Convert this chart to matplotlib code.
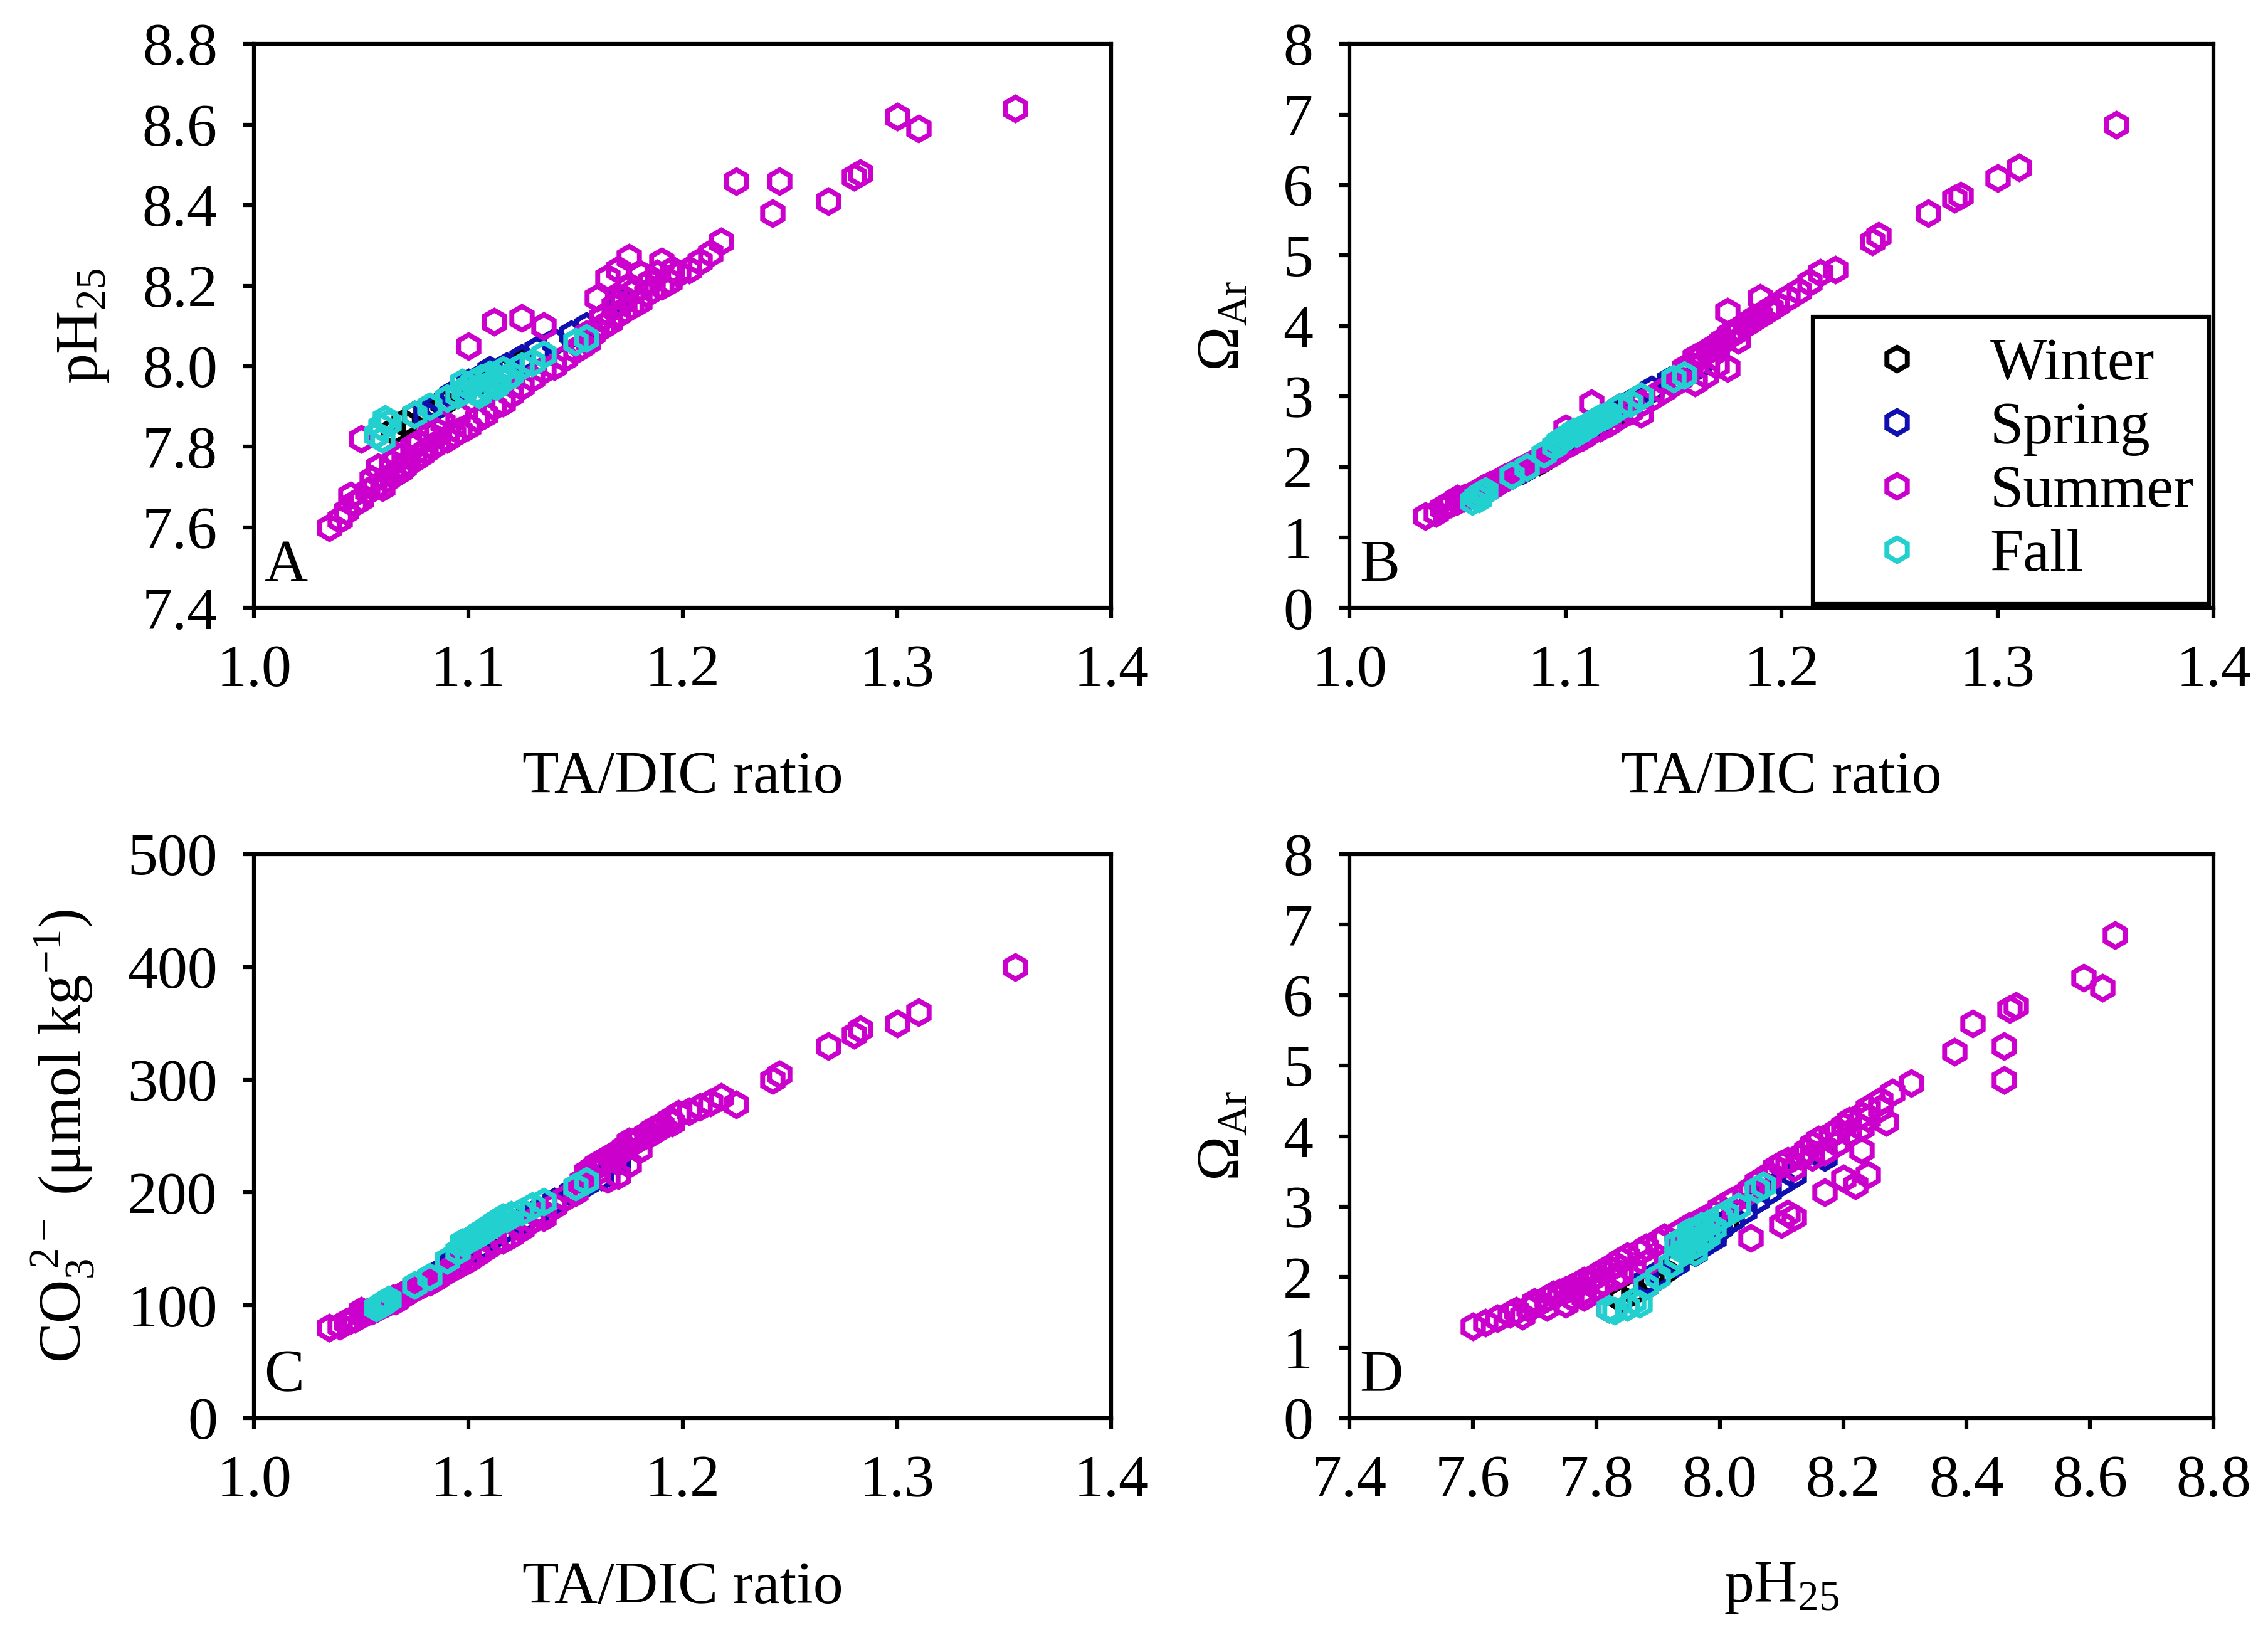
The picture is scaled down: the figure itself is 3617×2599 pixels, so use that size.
import matplotlib
matplotlib.use("Agg")
import matplotlib.pyplot as plt
from matplotlib.ticker import FormatStrFormatter, MultipleLocator

plt.rcParams['font.family'] = ['Liberation Serif', 'DejaVu Serif']
plt.rcParams['mathtext.fontset'] = 'custom'
plt.rcParams['mathtext.rm'] = 'Liberation Serif'
plt.rcParams['mathtext.it'] = 'Liberation Serif:italic'
plt.rcParams['mathtext.bf'] = 'Liberation Serif:bold'

# ---- data: TA/DIC ratio, pH25, Omega_Ar, CO3 (umol/kg) ----
winter_ratio = [1.065, 1.070, 1.075, 1.080, 1.088, 1.095, 1.105, 1.115, 1.125]
winter_ph    = [7.84, 7.86, 7.88, 7.89, 7.91, 7.93, 7.96, 7.99, 8.01]
winter_omega = [1.70, 1.80, 1.88, 1.95, 2.08, 2.22, 2.40, 2.60, 2.78]
winter_co3   = [105, 110, 115, 120, 128, 136, 150, 165, 175]

spring_ratio = [1.080, 1.085, 1.092, 1.100, 1.105, 1.110, 1.118, 1.125, 1.132, 1.140,
                1.148, 1.155, 1.162, 1.170]
spring_ph    = [7.88, 7.90, 7.93, 7.96, 7.97, 7.99, 8.00, 8.02, 8.04, 8.06,
                8.08, 8.10, 8.12, 8.17]
spring_omega = [1.95, 2.05, 2.20, 2.35, 2.45, 2.55, 2.70, 2.82, 2.95, 3.10,
                3.22, 3.35, 3.45, 3.70]
spring_co3   = [122, 128, 138, 147, 152, 160, 168, 175, 183, 192,
                200, 208, 214, 228]

summer_ratio = [1.035, 1.040, 1.043, 1.047, 1.050, 1.053, 1.056, 1.060, 1.062, 1.065,
                1.068, 1.070, 1.072, 1.075, 1.078, 1.080, 1.083, 1.086, 1.090, 1.093,
                1.096, 1.100, 1.104, 1.108, 1.112, 1.116, 1.120, 1.125, 1.130, 1.135,
                1.140, 1.145, 1.150, 1.153, 1.156, 1.158, 1.160, 1.163, 1.166, 1.170,
                1.173, 1.176, 1.180, 1.183, 1.186, 1.190, 1.194, 1.198, 1.203, 1.208,
                1.213, 1.218,
                1.225, 1.242, 1.245, 1.268, 1.280, 1.283, 1.300, 1.310, 1.355,
                1.050, 1.100, 1.112, 1.125, 1.135, 1.170, 1.175, 1.165, 1.180, 1.190,
                1.160, 1.175,
                1.058, 1.066, 1.074, 1.082, 1.088, 1.095,
                1.155, 1.162, 1.168, 1.172, 1.178, 1.185, 1.188, 1.195,
                1.064, 1.070, 1.077, 1.085, 1.045, 1.055]
summer_ph    = [7.60, 7.62, 7.64, 7.66, 7.67, 7.69, 7.70, 7.70, 7.72, 7.73,
                7.74, 7.75, 7.76, 7.77, 7.78, 7.79, 7.80, 7.81, 7.82, 7.83,
                7.84, 7.85, 7.87, 7.88, 7.90, 7.91, 7.93, 7.95, 7.97, 7.99,
                8.00, 8.02, 8.04, 8.05, 8.06, 8.08, 8.09, 8.10, 8.11, 8.13,
                8.14, 8.15, 8.16, 8.18, 8.19, 8.20, 8.21, 8.23, 8.24, 8.26,
                8.28, 8.31,
                8.46, 8.38, 8.46, 8.41, 8.47, 8.48, 8.62, 8.59, 8.64,
                7.82, 8.05, 8.11, 8.12, 8.10, 8.24, 8.27, 8.22, 8.23, 8.26,
                8.17, 8.20,
                7.75, 7.78, 7.80, 7.83, 7.86, 7.88,
                8.08, 8.12, 8.15, 8.17, 8.19, 8.21, 8.23, 8.24,
                7.76, 7.78, 7.81, 7.84, 7.68, 7.72]
summer_omega = [1.30, 1.35, 1.42, 1.48, 1.52, 1.56, 1.60, 1.65, 1.70, 1.75,
                1.78, 1.82, 1.85, 1.90, 1.95, 1.98, 2.02, 2.08, 2.12, 2.18,
                2.24, 2.30, 2.36, 2.42, 2.50, 2.56, 2.62, 2.72, 2.80, 2.90,
                2.98, 3.08, 3.18, 3.25, 3.35, 3.45, 3.55, 3.60, 3.65, 3.72,
                3.80, 3.88, 3.95, 4.02, 4.08, 4.15, 4.22, 4.30, 4.40, 4.50,
                4.62, 4.75,
                4.80, 5.20, 5.28, 5.60, 5.80, 5.85, 6.10, 6.25, 6.85,
                1.55, 2.55, 2.90, 2.85, 2.75, 3.45, 4.20, 3.30, 3.80, 4.40,
                3.20, 3.40,
                1.62, 1.72, 1.86, 2.00, 2.10, 2.20,
                3.40, 3.55, 3.70, 3.78, 3.90, 4.05, 4.12, 4.25,
                1.72, 1.80, 1.92, 2.05, 1.45, 1.58]
summer_co3   = [80, 82, 85, 88, 92, 94, 96, 100, 102, 106,
                108, 110, 112, 116, 118, 120, 122, 126, 130, 134,
                138, 140, 145, 150, 155, 158, 162, 168, 175, 182,
                188, 195, 200, 210, 215, 222, 225, 228, 232, 236,
                240, 244, 248, 252, 256, 260, 265, 270, 272, 276,
                280, 285,
                278, 300, 305, 330, 340, 345, 350, 360, 400,
                95, 150, 165, 170, 178, 215, 245, 212, 238, 258,
                218, 225,
                98, 104, 114, 121, 128, 135,
                218, 226, 232, 238, 246, 252, 257, 262,
                104, 109, 117, 124, 87, 95]

fall_ratio = [1.057, 1.059, 1.061, 1.060, 1.063, 1.075, 1.082, 1.090, 1.095, 1.098,
              1.100, 1.102, 1.104, 1.106, 1.108, 1.110, 1.112, 1.114, 1.116, 1.120,
              1.125, 1.130, 1.135, 1.150, 1.155,
              1.105, 1.109, 1.113, 1.097, 1.118]
fall_ph    = [7.83, 7.85, 7.87, 7.82, 7.86, 7.88, 7.90, 7.92, 7.93, 7.94,
              7.95, 7.96, 7.94, 7.97, 7.95, 7.98, 7.96, 7.97, 7.99, 7.98,
              8.00, 8.01, 8.03, 8.06, 8.07,
              7.93, 7.97, 7.95, 7.96, 7.97]
fall_omega = [1.52, 1.58, 1.62, 1.55, 1.66, 1.88, 2.00, 2.18, 2.30, 2.38,
              2.42, 2.46, 2.50, 2.52, 2.55, 2.58, 2.62, 2.66, 2.70, 2.75,
              2.85, 2.90, 3.00, 3.25, 3.30,
              2.48, 2.56, 2.64, 2.36, 2.72]
fall_co3   = [98, 100, 103, 101, 105, 118, 125, 140, 148, 155,
              158, 160, 162, 165, 167, 170, 172, 175, 178, 180,
              183, 188, 192, 205, 210,
              163, 168, 174, 156, 177]

seasons = ['Winter', 'Spring', 'Summer', 'Fall']
season_colors = ['#000000', '#1010b0', '#cc00cc', '#22d0d0']
ratio = [winter_ratio, spring_ratio, summer_ratio, fall_ratio]
ph = [winter_ph, spring_ph, summer_ph, fall_ph]
omega = [winter_omega, spring_omega, summer_omega, fall_omega]
co3 = [winter_co3, spring_co3, summer_co3, fall_co3]

FS = 23

fig = plt.figure(figsize=(3617 / 300, 2599 / 300), dpi=300)
ax_a = fig.add_axes([0.112, 0.627, 0.378, 0.346])
ax_b = fig.add_axes([0.595, 0.627, 0.381, 0.346])
ax_c = fig.add_axes([0.112, 0.130, 0.378, 0.346])
ax_d = fig.add_axes([0.595, 0.130, 0.381, 0.346])


def scatter_panel(ax, xs, ys):
    for i in range(len(seasons)):
        ax.plot(xs[i], ys[i], linestyle='none', marker='h', markersize=9,
                markerfacecolor='none', markeredgecolor=season_colors[i],
                markeredgewidth=1.9, label=seasons[i])


def style_panel(ax, letter, xlim, xstep, xfmt, ylim, ystep, yfmt, xlabel, ylabel):
    ax.set_xlim(xlim)
    ax.set_ylim(ylim)
    ax.xaxis.set_major_locator(MultipleLocator(xstep))
    ax.yaxis.set_major_locator(MultipleLocator(ystep))
    ax.xaxis.set_major_formatter(FormatStrFormatter(xfmt))
    ax.yaxis.set_major_formatter(FormatStrFormatter(yfmt))
    ax.tick_params(direction='out', length=4, width=1.5, labelsize=FS, pad=10,
                   top=False, right=False)
    for s in ax.spines.values():
        s.set_linewidth(1.5)
    ax.set_xlabel(xlabel, fontsize=FS, labelpad=20)
    ax.set_ylabel(ylabel, fontsize=FS, labelpad=12)
    ax.text(0.012, 0.025, letter, transform=ax.transAxes, fontsize=FS,
            ha='left', va='bottom')


scatter_panel(ax_a, ratio, ph)
scatter_panel(ax_b, ratio, omega)
scatter_panel(ax_c, ratio, co3)
scatter_panel(ax_d, ph, omega)

style_panel(ax_a, 'A', (1.0, 1.4), 0.1, '%.1f', (7.4, 8.8), 0.2, '%.1f',
            'TA/DIC ratio', 'pH$_{25}$')
style_panel(ax_b, 'B', (1.0, 1.4), 0.1, '%.1f', (0, 8), 1, '%d',
            'TA/DIC ratio', r'$\Omega_{\mathrm{Ar}}$')
style_panel(ax_c, 'C', (1.0, 1.4), 0.1, '%.1f', (0, 500), 100, '%d',
            'TA/DIC ratio', r'CO$_3^{\ 2-}$ ($\mathrm{\mu}$mol kg$^{-1}$)')
style_panel(ax_d, 'D', (7.4, 8.8), 0.2, '%.1f', (0, 8), 1, '%d',
            'pH$_{25}$', r'$\Omega_{\mathrm{Ar}}$')

leg = ax_b.legend(loc='lower left', bbox_to_anchor=(0.536, 0.007, 0.459, 0.55),
                  mode='expand', borderaxespad=0, fontsize=FS, numpoints=1,
                  handlelength=2.1, handletextpad=0.5, borderpad=0.35,
                  labelspacing=0.15, fancybox=False, edgecolor='black',
                  framealpha=1)
leg.get_frame().set_linewidth(1.5)

fig.savefig('out.png', dpi=300, facecolor='white')
